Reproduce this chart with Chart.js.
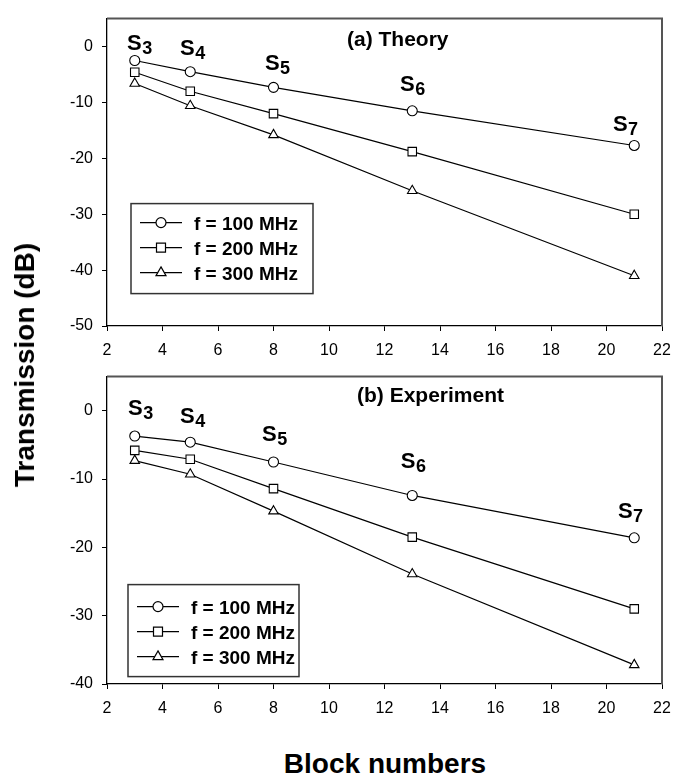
<!DOCTYPE html>
<html lang="en">
<head>
    <meta charset="UTF-8">
    <title>Transmission vs block numbers</title>
    <script src="https://cdn.jsdelivr.net/npm/chart.js"></script>
    <style>
        body { margin: 0; background: #fff; width: 682px; height: 777px; position: relative; overflow: hidden;
               font-family: "Liberation Sans", Arial, sans-serif; color: #000; }
        .panel { position: absolute; left: 0; width: 682px; height: 360px; }
        #yTitle { position: absolute; left: 25px; top: 365px; transform: translate(-50%, -50%) rotate(-90deg);
                  font-weight: bold; font-size: 28px; line-height: 28px; white-space: nowrap; }
        #xTitle { position: absolute; left: 385px; top: 750px; transform: translateX(-50%);
                  font-weight: bold; font-size: 28px; line-height: 28px; white-space: nowrap; }
    </style>
</head>
<body>
    <div class="panel" style="top:0"><canvas id="theory" width="682" height="360"></canvas></div>
    <div class="panel" style="top:358px"><canvas id="experiment" width="682" height="360"></canvas></div>
    <div id="yTitle">Transmission (dB)</div>
    <div id="xTitle">Block numbers</div>

    <script>
        // block numbers of the S3..S7 structures
        var blocks = [3, 5, 8, 13, 21];
        var stageSubs = ['3', '4', '5', '6', '7'];
        var seriesNames = ['f = 100 MHz', 'f = 200 MHz', 'f = 300 MHz'];

        // (a) theory, dB
        var theory100 = [-2.5, -4.5, -7.3, -11.5, -17.7];
        var theory200 = [-4.6, -8.0, -12.0, -18.8, -30.0];
        var theory300 = [-6.6, -10.6, -15.8, -25.8, -41.0];

        // (b) experiment, dB
        var experiment100 = [-3.7, -4.6, -7.5, -12.4, -18.6];
        var experiment200 = [-5.8, -7.1, -11.4, -18.5, -29.0];
        var experiment300 = [-7.3, -9.3, -14.7, -23.9, -37.2];

        var xTicks = [2, 4, 6, 8, 10, 12, 14, 16, 18, 20, 22];
        var yTicksTheory = [0, -10, -20, -30, -40, -50];
        var yTicksExperiment = [0, -10, -20, -30, -40];

        var FONT = '"Liberation Sans", Arial, sans-serif';
        var markers = [
            { style: 'circle', radius: 5 },
            { style: 'rect', radius: 6 },
            { style: 'triangle', radius: 5.5 }
        ];

        function drawMarker(ctx, style, x, y, r) {
            ctx.beginPath();
            if (style === 'circle') {
                ctx.arc(x, y, r, 0, Math.PI * 2);
            } else if (style === 'rect') {
                ctx.rect(x - r, y - r, 2 * r, 2 * r);
            } else {
                ctx.moveTo(x, y - r * 1.15);
                ctx.lineTo(x + r, y + r * 0.6);
                ctx.lineTo(x - r, y + r * 0.6);
                ctx.closePath();
            }
            ctx.fillStyle = '#fff';
            ctx.fill();
            ctx.stroke();
        }

        // frame, panel title, S labels and the boxed legend
        var panelDecor = {
            id: 'panelDecor',
            afterDraw: function(chart, args, opts) {
                var ctx = chart.ctx;
                var area = chart.chartArea;
                var xs = chart.scales.x, ys = chart.scales.y;
                ctx.save();

                ctx.strokeStyle = '#555';
                ctx.lineWidth = 2;
                ctx.beginPath();
                ctx.moveTo(area.left, area.top);
                ctx.lineTo(area.right, area.top);
                ctx.lineTo(area.right, area.bottom);
                ctx.stroke();

                ctx.fillStyle = '#000';
                ctx.textAlign = 'left';
                ctx.textBaseline = 'alphabetic';
                ctx.font = 'bold 21px ' + FONT;
                ctx.fillText(opts.title, area.left + opts.titlePos[0], area.top + opts.titlePos[1]);

                opts.stagePos.forEach(function(p, i) {
                    var px = xs.getPixelForValue(p[0]);
                    var py = ys.getPixelForValue(p[1]);
                    ctx.font = 'bold 22px ' + FONT;
                    ctx.fillText('S', px, py);
                    var w = ctx.measureText('S').width;
                    ctx.font = 'bold 18px ' + FONT;
                    ctx.fillText(stageSubs[i], px + w + 0.5, py + 4);
                });

                var bx = area.left + opts.legendBox[0], by = area.top + opts.legendBox[1];
                ctx.strokeStyle = '#333';
                ctx.lineWidth = 1.5;
                ctx.strokeRect(bx, by, opts.legendBox[2], opts.legendBox[3]);
                ctx.font = 'bold 19px ' + FONT;
                seriesNames.forEach(function(name, i) {
                    var ry = by + opts.legendRows[i];
                    ctx.strokeStyle = '#000';
                    ctx.lineWidth = 1.2;
                    ctx.beginPath();
                    ctx.moveTo(bx + 9, ry);
                    ctx.lineTo(bx + 51, ry);
                    ctx.stroke();
                    drawMarker(ctx, markers[i].style, bx + 30, ry, i === 1 ? 4.5 : 5);
                    ctx.fillStyle = '#000';
                    ctx.fillText(name, bx + 63, ry + 7);
                });
                ctx.restore();
            }
        };

        function makeDataset(name, values, i) {
            return {
                label: name,
                data: blocks.map(function(b, k) { return { x: b, y: values[k] }; }),
                borderColor: '#000',
                borderWidth: 1.2,
                pointStyle: markers[i].style,
                pointRadius: markers[i].radius,
                pointBackgroundColor: '#fff',
                pointBorderColor: '#000',
                pointBorderWidth: 1.1,
                tension: 0,
                fill: false
            };
        }

        function makeChart(id, series, yMin, yTicks, decor) {
            var tickFont = { family: FONT, size: 16 };
            return new Chart(document.getElementById(id), {
                type: 'line',
                data: {
                    datasets: series.map(function(vals, i) { return makeDataset(seriesNames[i], vals, i); })
                },
                options: {
                    responsive: false,
                    animation: false,
                    layout: { padding: { top: 10, right: 20, left: 0, bottom: 0 } },
                    plugins: {
                        legend: { display: false },
                        tooltip: { enabled: false },
                        panelDecor: decor
                    },
                    scales: {
                        x: {
                            type: 'linear',
                            min: 2,
                            max: 22,
                            afterBuildTicks: function(s) { s.ticks = xTicks.map(function(v) { return { value: v }; }); },
                            afterFit: function(s) { s.height = 34; },
                            grid: { drawOnChartArea: false, drawTicks: true, tickLength: 5, color: '#000' },
                            border: { color: '#000', width: 1.3 },
                            ticks: { color: '#000', font: tickFont, padding: 10, maxRotation: 0, autoSkip: false }
                        },
                        y: {
                            min: yMin,
                            max: 5,
                            afterBuildTicks: function(s) { s.ticks = yTicks.map(function(v) { return { value: v }; }); },
                            afterFit: function(s) { s.width = 107; },
                            grid: { drawOnChartArea: false, drawTicks: true, tickLength: 5, color: '#000' },
                            border: { color: '#000', width: 1.3 },
                            ticks: { color: '#000', font: tickFont, padding: 9 }
                        }
                    }
                },
                plugins: [panelDecor]
            });
        }

        makeChart('theory', [theory100, theory200, theory300], -50, yTicksTheory, {
            title: '(a) Theory',
            titlePos: [240, 27],
            stagePos: [[2.72, -0.55], [4.63, -1.54], [7.69, -4.25], [12.56, -7.89], [20.23, -15.13]],
            legendBox: [24, 185, 182, 90],
            legendRows: [19, 44, 69]
        });

        makeChart('experiment', [experiment100, experiment200, experiment300], -40, yTicksExperiment, {
            title: '(b) Experiment',
            titlePos: [250, 25],
            stagePos: [[2.76, -0.64], [4.63, -1.81], [7.59, -4.41], [12.59, -8.44], [20.41, -15.77]],
            legendBox: [21, 208, 171, 92],
            legendRows: [22, 47, 72]
        });
    </script>
</body>
</html>
